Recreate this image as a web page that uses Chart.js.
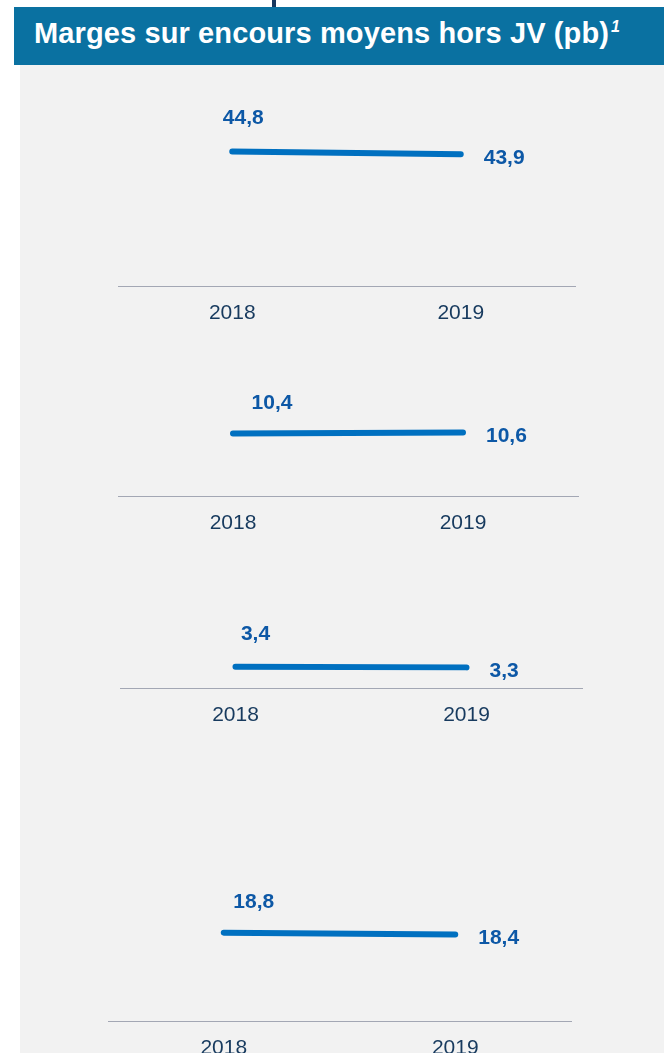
<!DOCTYPE html>
<html><head><meta charset="utf-8">
<script src="https://cdn.jsdelivr.net/npm/chart.js@4.4.0/dist/chart.umd.min.js"></script>
<style>
html,body{margin:0;padding:0;background:#fff;width:664px;height:1057px;overflow:hidden;font-family:"Liberation Sans",Arial,sans-serif;}
#hdr{position:absolute;left:14px;top:7px;width:650px;height:58px;background:#0a71a1;}
#ttl{position:absolute;left:34px;top:19px;font-size:29px;line-height:29px;font-weight:bold;color:#fff;white-space:nowrap;letter-spacing:0.12px;}
#ttl span{font-size:16px;font-style:italic;position:relative;top:-11px;margin-left:2px;}
#tick{position:absolute;left:272px;top:0;width:4px;height:7px;background:#17375e;}
#panel{position:absolute;left:20px;top:65px;width:644px;height:988px;background:#f2f2f2;}
#clip{position:absolute;left:0;top:0;width:664px;height:1053px;overflow:hidden;}
canvas{position:absolute;left:0;}
</style></head>
<body>
<div id="tick"></div>
<div id="hdr"></div>
<div id="ttl">Marges sur encours moyens hors JV (pb)<span>1</span></div>
<div id="panel"></div>
<div id="clip"></div>
<script>
const years = ['2018', '2019'];
const margeA = [44.8, 43.9];
const margeB = [10.4, 10.6];
const margeC = [3.4, 3.3];
const margeD = [18.8, 18.4];
const yMaxes = [50, 12, 4, 20];

const FONT = '"Liberation Sans", Arial, sans-serif';
const fmt = v => v.toFixed(1).replace('.', ',');

const panels = [
  { data: margeA, max: yMaxes[0], area: [118, 575, 136, 286], first: [11, -33] },
  { data: margeB, max: yMaxes[1], area: [118, 578, 424, 496], first: [39, -30] },
  { data: margeC, max: yMaxes[2], area: [120, 582, 663, 688], first: [20, -33] },
  { data: margeD, max: yMaxes[3], area: [108, 571, 927, 1021], first: [30, -30] }
];

const valueLabels = {
  id: 'valueLabels',
  afterDatasetsDraw(chart, args, opts) {
    const ctx = chart.ctx;
    const meta = chart.getDatasetMeta(0);
    const vals = chart.data.datasets[0].data;
    const p0 = meta.data[0], p1 = meta.data[1];
    ctx.save();
    ctx.font = 'bold 21px ' + FONT;
    ctx.fillStyle = '#0d58a6';
    ctx.textBaseline = 'middle';
    ctx.textAlign = 'center';
    ctx.fillText(fmt(vals[0]), p0.x + opts.dx, p0.y + opts.dy);
    ctx.textAlign = 'left';
    ctx.fillText(fmt(vals[1]), p1.x + 23, p1.y + 4);
    ctx.restore();
  }
};

const PAD_TOP = 70, AXIS_H = 45;
const clip = document.getElementById('clip');
panels.forEach(p => {
  const [L, R, T, B] = p.area;
  const cv = document.createElement('canvas');
  const h = (B - T) + PAD_TOP + AXIS_H;
  cv.width = 664; cv.height = h;
  cv.style.top = (T - PAD_TOP) + 'px';
  cv.style.width = '664px'; cv.style.height = h + 'px';
  clip.appendChild(cv);
  new Chart(cv, {
    type: 'line',
    data: {
      labels: years,
      datasets: [{
        data: p.data,
        borderColor: '#0070c0',
        borderWidth: 6,
        borderCapStyle: 'round',
        pointRadius: 0,
        tension: 0,
        clip: false
      }]
    },
    options: {
      responsive: false,
      animation: false,
      devicePixelRatio: 1,
      layout: { padding: { left: L, right: 664 - R, top: PAD_TOP, bottom: 0 } },
      plugins: {
        legend: { display: false },
        tooltip: { enabled: false },
        valueLabels: { dx: p.first[0], dy: p.first[1] }
      },
      scales: {
        x: {
          offset: true,
          grid: { display: true, drawOnChartArea: false, drawTicks: false },
          border: { display: true, color: '#a3a7b4', width: 1 },
          ticks: { color: '#173a5e', font: { size: 21, family: FONT }, padding: 15 },
          afterFit(s) { s.height = AXIS_H; }
        },
        y: { display: false, min: 0, max: p.max }
      }
    },
    plugins: [valueLabels]
  });
});
</script>
</body></html>
